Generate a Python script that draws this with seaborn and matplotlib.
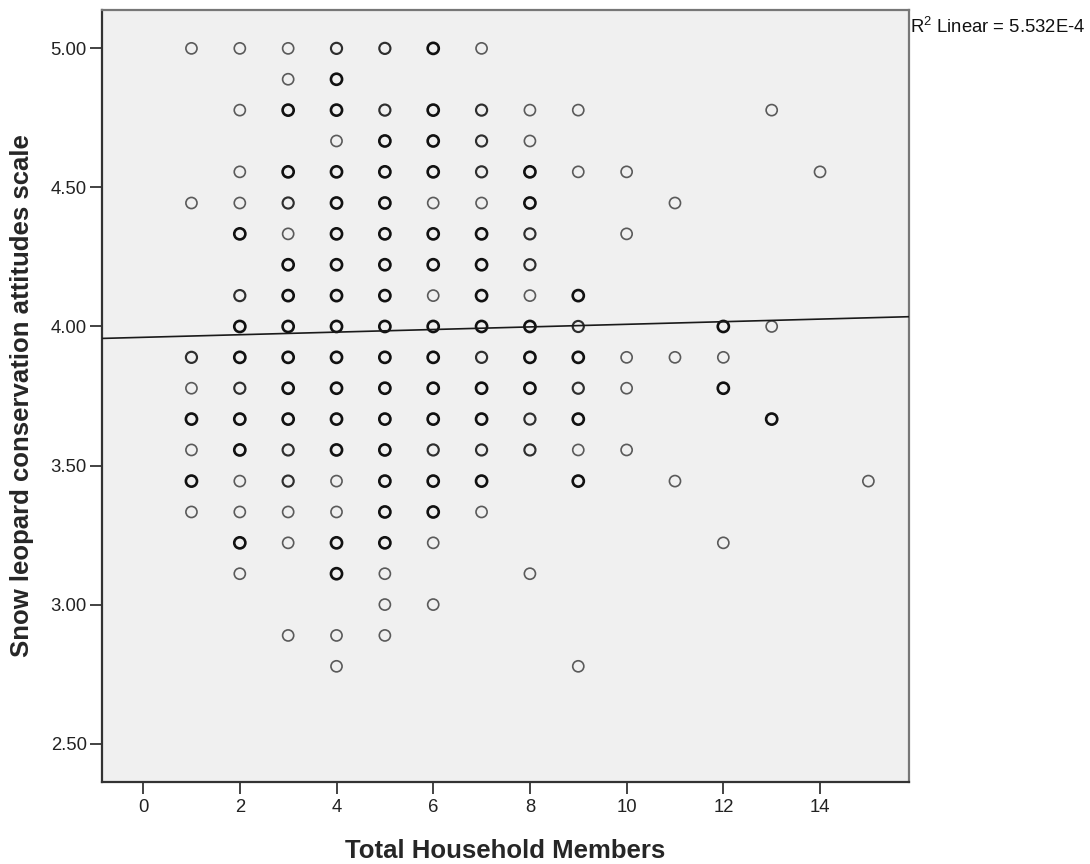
import numpy as np
import pandas as pd
import matplotlib
matplotlib.use("Agg")
import matplotlib.pyplot as plt
from matplotlib.ticker import FormatStrFormatter
import seaborn as sns

# ---- data (x = household size, y = attitude scale) ----
# overlap: 1 = single (light) marker, 2 = a few overlapping, 3 = many overlapping (bold)
household = (
    [1] * 8 + [2] * 15 + [3] * 17 + [4] * 20 + [5] * 19 + [6] * 17 + [7] * 15
    + [8] * 13 + [9] * 10 + [10] * 5 + [11] * 3 + [12] * 4 + [13] * 3 + [14] * 1 + [15] * 1
)
attitude = [
    # x = 1
    5.000, 4.444, 3.889, 3.778, 3.667, 3.556, 3.444, 3.333,
    # x = 2
    5.000, 4.778, 4.556, 4.444, 4.333, 4.111, 4.000, 3.889, 3.778, 3.667, 3.556, 3.444, 3.333, 3.222, 3.111,
    # x = 3
    5.000, 4.889, 4.778, 4.556, 4.444, 4.333, 4.222, 4.111, 4.000, 3.889, 3.778, 3.667, 3.556, 3.444, 3.333, 3.222, 2.889,
    # x = 4
    5.000, 4.889, 4.778, 4.667, 4.556, 4.444, 4.333, 4.222, 4.111, 4.000, 3.889, 3.778, 3.667, 3.556, 3.444, 3.333, 3.222, 3.111, 2.889, 2.778,
    # x = 5
    5.000, 4.778, 4.667, 4.556, 4.444, 4.333, 4.222, 4.111, 4.000, 3.889, 3.778, 3.667, 3.556, 3.444, 3.333, 3.222, 3.111, 3.000, 2.889,
    # x = 6
    5.000, 4.778, 4.667, 4.556, 4.444, 4.333, 4.222, 4.111, 4.000, 3.889, 3.778, 3.667, 3.556, 3.444, 3.333, 3.222, 3.000,
    # x = 7
    5.000, 4.778, 4.667, 4.556, 4.444, 4.333, 4.222, 4.111, 4.000, 3.889, 3.778, 3.667, 3.556, 3.444, 3.333,
    # x = 8
    4.778, 4.667, 4.556, 4.444, 4.333, 4.222, 4.111, 4.000, 3.889, 3.778, 3.667, 3.556, 3.111,
    # x = 9
    4.778, 4.556, 4.111, 4.000, 3.889, 3.778, 3.667, 3.556, 3.444, 2.778,
    # x = 10
    4.556, 4.333, 3.889, 3.778, 3.556,
    # x = 11
    4.444, 3.889, 3.444,
    # x = 12
    4.000, 3.889, 3.778, 3.222,
    # x = 13
    4.778, 4.000, 3.667,
    # x = 14
    4.556,
    # x = 15
    3.444,
]
overlap = [
    1, 1, 2, 1, 3, 1, 3, 1,
    1, 1, 1, 1, 3, 2, 3, 3, 2, 3, 3, 1, 1, 3, 1,
    1, 1, 3, 3, 2, 1, 3, 3, 3, 3, 3, 3, 2, 2, 1, 1, 1,
    2, 3, 3, 1, 3, 3, 3, 3, 3, 3, 3, 3, 3, 3, 1, 1, 3, 3, 1, 1,
    2, 2, 3, 3, 3, 3, 3, 3, 3, 3, 3, 3, 3, 3, 3, 3, 1, 1, 1,
    3, 3, 3, 3, 1, 3, 3, 1, 3, 3, 3, 3, 2, 3, 3, 1, 1,
    1, 2, 2, 2, 1, 3, 3, 3, 3, 2, 3, 3, 2, 3, 1,
    1, 1, 3, 3, 2, 2, 1, 3, 3, 3, 2, 2, 1,
    1, 1, 3, 2, 3, 2, 3, 1, 3, 1,
    1, 1, 1, 1, 1,
    1, 1, 1,
    3, 1, 3, 1,
    1, 1, 3,
    1,
    1,
]

fit_intercept = 3.961
fit_slope = 0.00468
r2_label = "5.532E-4"

x_ticks = [0, 2, 4, 6, 8, 10, 12, 14]
y_ticks = [2.50, 3.00, 3.50, 4.00, 4.50, 5.00]

df = pd.DataFrame({"household": household, "attitude": attitude, "overlap": overlap})

# ---- style ----
sns.set_theme(style="white")
plt.rcParams["font.family"] = ["Liberation Sans", "DejaVu Sans"]
plt.rcParams["mathtext.fontset"] = "custom"
plt.rcParams["mathtext.rm"] = "Liberation Sans"

fig = plt.figure(figsize=(10.9, 8.64), dpi=100)
ax = fig.add_axes([102 / 1090, 82 / 864, 807 / 1090, 772 / 864])
ax.set_facecolor("#F0F0F0")

styles = {1: ("#5a5a5a", 1.2), 2: ("#2e2e2e", 1.55), 3: ("#111111", 1.9)}
for lvl, (col, lw) in styles.items():
    sub = df[df["overlap"] == lvl]
    sns.scatterplot(
        data=sub, x="household", y="attitude", ax=ax, marker="o", s=64,
        facecolor="none", edgecolor=col, linewidth=lw, legend=False, zorder=3,
    )

ax.set_xlim(-0.85, 15.84)
ax.set_ylim(2.362, 5.138)
ax.axline((0, fit_intercept), slope=fit_slope, color="#1a1a1a", lw=1.2, zorder=4)

ax.set_xticks(x_ticks)
ax.set_yticks(y_ticks)
ax.yaxis.set_major_formatter(FormatStrFormatter("%.2f"))
ax.tick_params(axis="both", which="major", direction="out", length=8.5, width=1.2,
               colors="#222222", labelsize=13.3, pad=2.5, left=True, bottom=True)
ax.tick_params(axis="x", pad=4)

for side in ["left", "bottom"]:
    ax.spines[side].set_color("#333333")
    ax.spines[side].set_linewidth(1.6)
for side in ["top", "right"]:
    ax.spines[side].set_color("#777777")
    ax.spines[side].set_linewidth(1.6)

ax.set_xlabel("Total Household Members", fontsize=18.5, fontweight="bold", labelpad=16)
ax.set_ylabel("Snow leopard conservation attitudes scale", fontsize=18.5,
              fontweight="bold", labelpad=12)

fig.text(910 / 1090, 1 - 33 / 864, r"R$^{\mathregular{2}}$ Linear = " + r2_label,
         fontsize=13.3, ha="left", va="baseline", color="#111111")

fig.savefig("out.png", dpi=100, facecolor="white")
